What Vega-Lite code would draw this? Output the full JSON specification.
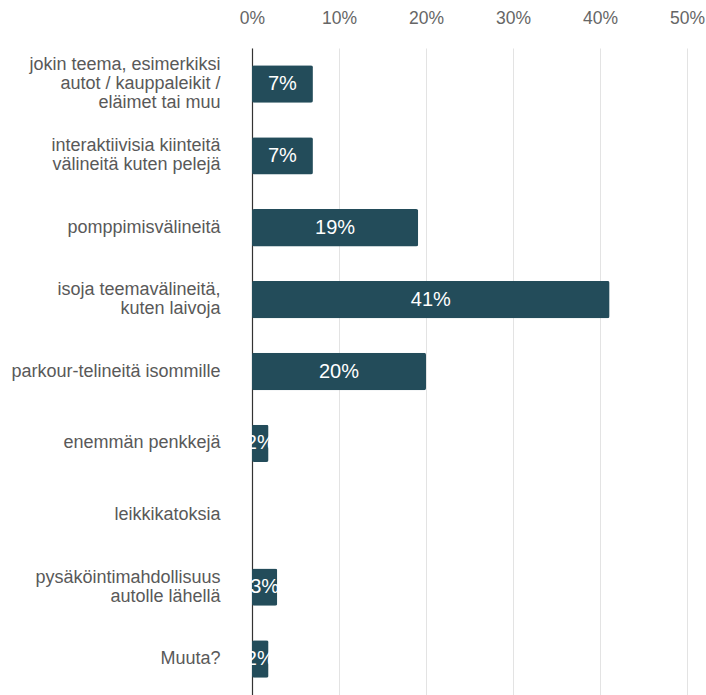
{
  "$schema": "https://vega.github.io/schema/vega-lite/v6.json",
  "autosize": {"type": "none"},
  "width": 435,
  "height": 647,
  "padding": {"left": 252, "top": 48, "right": 19, "bottom": 0},
  "background": "white",
  "config": {"view": {"stroke": null}, "font": "Liberation Sans"},
  "data": {"values": [
    {"k": "jokin teema, esimerkiksi|autot / kauppaleikit /|eläimet tai muu", "v": 0.07, "t": "7%"},
    {"k": "interaktiivisia kiinteitä|välineitä kuten pelejä", "v": 0.07, "t": "7%"},
    {"k": "pomppimisvälineitä", "v": 0.191, "t": "19%"},
    {"k": "isoja teemavälineitä,|kuten laivoja", "v": 0.411, "t": "41%"},
    {"k": "parkour-telineitä isommille", "v": 0.2, "t": "20%"},
    {"k": "enemmän penkkejä", "v": 0.019, "t": "2%"},
    {"k": "leikkikatoksia", "v": 0, "t": ""},
    {"k": "pysäköintimahdollisuus|autolle lähellä", "v": 0.029, "t": "3%"},
    {"k": "Muuta?", "v": 0.019, "t": "2%"}
  ]},
  "encoding": {
    "y": {"field": "k", "type": "nominal", "sort": null,
      "scale": {"paddingInner": 0.48, "paddingOuter": 0.24},
      "axis": {"title": null, "labelExpr": "split(datum.value, '|')", "labelBaseline": "middle",
        "labelOffset": {"condition": [
          {"test": "length(split(datum.value, '|')) == 3", "value": -19},
          {"test": "length(split(datum.value, '|')) == 2", "value": -9.5}
        ], "value": 0},
        "labelFontSize": 18, "labelColor": "#595959", "labelPadding": 32, "ticks": false, "domain": true, "domainColor": "#333333", "domainWidth": 1.2, "labelLineHeight": 19, "labelLimit": 300}}
  },
  "layer": [
    {"mark": {"type": "bar", "color": "#234c5a", "cornerRadius": 2},
     "encoding": {"x": {"field": "v", "type": "quantitative",
       "scale": {"domain": [0, 0.5]},
       "axis": {"orient": "top", "title": null, "format": ".0%", "values": [0, 0.1, 0.2, 0.3, 0.4, 0.5], "labelFontSize": 17.5, "labelColor": "#666666", "ticks": false, "domain": false, "labelPadding": 21, "gridColor": "#e3e3e3", "labelFlush": false}}}},
    {"transform": [{"calculate": "datum.v / 2", "as": "mid"}],
     "mark": {"type": "text", "color": "white", "fontSize": 20, "align": "center", "baseline": "middle"},
     "encoding": {"x": {"field": "mid", "type": "quantitative"}, "text": {"field": "t"}}}
  ]
}
